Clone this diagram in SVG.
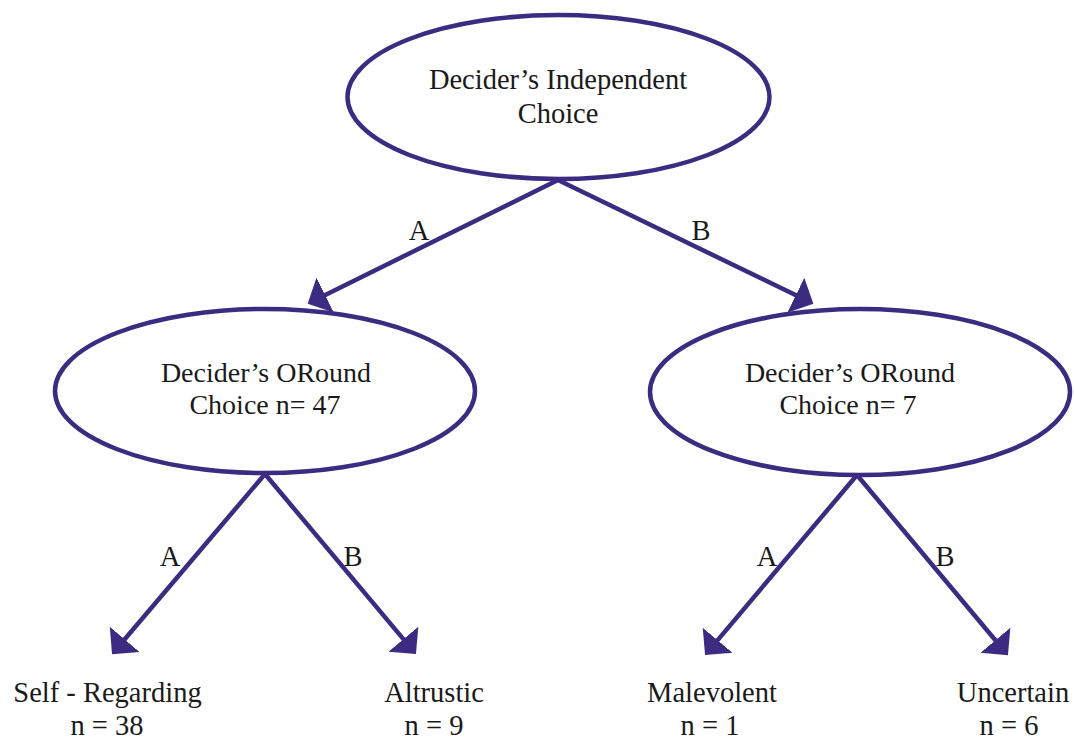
<svg xmlns="http://www.w3.org/2000/svg" width="1074" height="740" viewBox="0 0 1074 740">
<style>
.node ellipse{fill:#ffffff;stroke:#3b2c82;stroke-width:4.5}
text{font-family:"Liberation Serif","Times New Roman",serif;font-size:28.5px;fill:#1a1a1a;text-anchor:middle}
.mid{font-size:28px}
.edge{stroke:#3b2c82;stroke-width:4.5;fill:none;marker-end:url(#arr)}
</style>
<defs>
<marker id="arr" markerUnits="userSpaceOnUse" markerWidth="40" markerHeight="40" refX="14" refY="20" orient="auto" viewBox="0 0 40 40">
<path d="M0,0.5 L19.5,20 L0,39.5 Z" fill="#3b2c82"/>
</marker>
</defs>
<rect width="1074" height="740" fill="#ffffff"/>
<g id="connectors">
<line class="edge" x1="558" y1="180" x2="312.6" y2="301.2"/>
<line class="edge" x1="558" y1="180" x2="808.4" y2="301.3"/>
<line class="edge" x1="265" y1="474" x2="115.6" y2="650"/>
<line class="edge" x1="265" y1="474" x2="412.4" y2="649.9"/>
<line class="edge" x1="857" y1="475" x2="708.6" y2="650.9"/>
<line class="edge" x1="857" y1="475" x2="1004.4" y2="651"/>
<text x="419" y="240">A</text>
<text x="701" y="240">B</text>
<text x="170" y="566">A</text>
<text x="353" y="566">B</text>
<text x="767" y="566">A</text>
<text x="945" y="566">B</text>
</g>
<g id="root" class="node">
<ellipse cx="558.5" cy="97" rx="211" ry="82"/>
<text x="558" y="89">Decider’s Independent</text>
<text x="558" y="123">Choice</text>
</g>
<g id="left" class="node">
<ellipse cx="265" cy="391" rx="210" ry="82"/>
<text class="mid" x="266" y="382">Decider’s ORound</text>
<text class="mid" x="265" y="414">Choice n= 47</text>
</g>
<g id="right" class="node">
<ellipse cx="860" cy="392" rx="210" ry="83"/>
<text class="mid" x="850" y="382">Decider’s ORound</text>
<text class="mid" x="848" y="414">Choice n= 7</text>
</g>
<g id="self-regarding" class="node">
<text x="107.5" y="702">Self - Regarding</text>
<text x="107" y="735">n = 38</text>
</g>
<g id="altrustic" class="node">
<text x="434" y="702">Altrustic</text>
<text x="434" y="735">n = 9</text>
</g>
<g id="malevolent" class="node">
<text x="712" y="702">Malevolent</text>
<text x="710" y="735">n = 1</text>
</g>
<g id="uncertain" class="node">
<text x="1013" y="702">Uncertain</text>
<text x="1009" y="735">n = 6</text>
</g>
</svg>
